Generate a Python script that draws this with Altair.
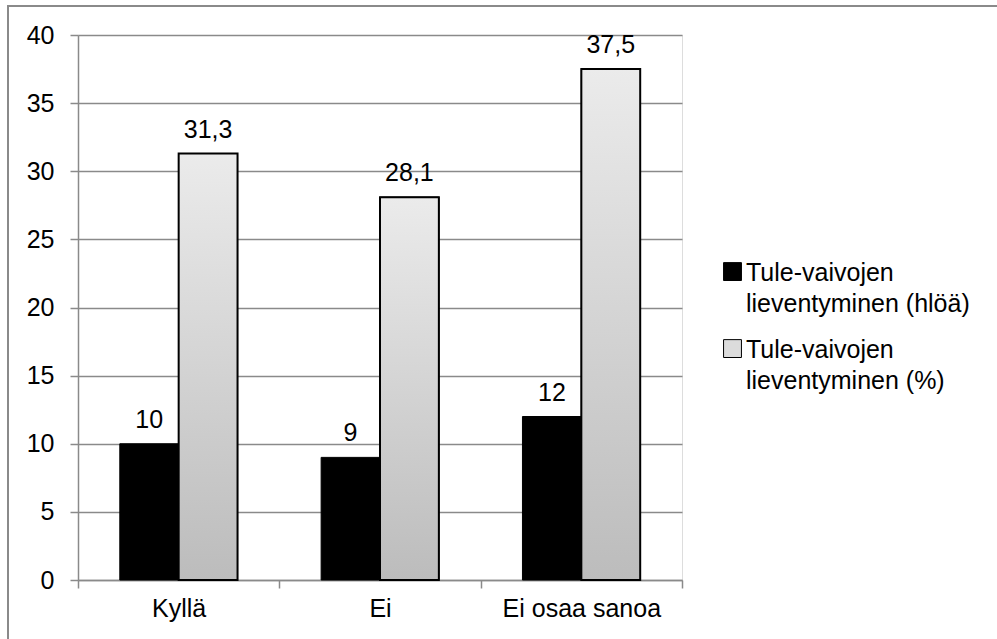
import altair as alt
import pandas as pd

# Survey answers and the two series shown for each answer
categories = ["Kyllä", "Ei", "Ei osaa sanoa"]
series_names = [
    "Tule-vaivojen lieventyminen (hlöä)",
    "Tule-vaivojen lieventyminen (%)",
]
counts = [10, 9, 12]
percents = [31.3, 28.1, 37.5]
y_ticks = [0, 5, 10, 15, 20, 25, 30, 35, 40]

rows = []
for cat, n, p in zip(categories, counts, percents):
    rows.append({"kategoria": cat, "sarja": series_names[0], "arvo": n})
    rows.append({"kategoria": cat, "sarja": series_names[1], "arvo": p})
df = pd.DataFrame(rows)
# Finnish decimal comma for the value labels
df["teksti"] = df["arvo"].map(lambda v: f"{v:g}".replace(".", ","))

FONT = "Liberation Sans"
FS = 25
AXIS_GREY = "#8a8a8a"

x_enc = alt.X(
    "kategoria:N",
    sort=categories,
    scale=alt.Scale(paddingInner=0, paddingOuter=0),
    axis=alt.Axis(
        title=None,
        labelAngle=0,
        tickBand="extent",
        grid=False,
        domainColor=AXIS_GREY,
        domainWidth=1.5,
        tickColor=AXIS_GREY,
        tickWidth=1.5,
        tickSize=8,
        labelFont=FONT,
        labelFontSize=FS,
        labelColor="black",
        labelPadding=8,
    ),
)
xoff_enc = alt.XOffset(
    "sarja:N",
    sort=series_names,
    scale=alt.Scale(paddingInner=0, paddingOuter=0.71),
)
y_enc = alt.Y(
    "arvo:Q",
    scale=alt.Scale(domain=[0, 40], nice=False),
    axis=alt.Axis(
        title=None,
        values=y_ticks,
        format="d",
        grid=True,
        gridColor=AXIS_GREY,
        gridWidth=1.5,
        domainColor=AXIS_GREY,
        domainWidth=1.5,
        tickColor=AXIS_GREY,
        tickWidth=1.5,
        tickSize=8,
        labelFont=FONT,
        labelFontSize=FS,
        labelColor="black",
        labelPadding=16,
    ),
)

# Legend labels break after the first word
split_label = (
    "[slice(datum.label, 0, indexof(datum.label, ' ')), "
    "slice(datum.label, indexof(datum.label, ' ') + 1)]"
)

bars = alt.Chart(df).mark_bar(stroke="black", strokeWidth=1).encode(
    x=x_enc,
    xOffset=xoff_enc,
    y=y_enc,
    color=alt.Color(
        "sarja:N",
        sort=series_names,
        scale=alt.Scale(domain=series_names, range=["black", "#dcdcdc"]),
        legend=alt.Legend(
            title=None,
            orient="none",
            legendX=642,
            legendY=233,
            padding=0,
            # square raised so that it sits beside the first label line
            symbolType="M-1,-2H1V0H-1Z",
            symbolSize=320,
            symbolStrokeColor="black",
            symbolStrokeWidth=1,
            symbolOpacity=1,
            labelFont=FONT,
            labelFontSize=FS,
            labelColor="black",
            labelOffset=1,
            labelBaseline="alphabetic",
            labelLimit=400,
            labelExpr=split_label,
            rowPadding=20,
        ),
    ),
)

# Percentage bars are drawn again on top with a vertical grey gradient
gradient_bars = (
    alt.Chart(df)
    .transform_filter(alt.datum.sarja == series_names[1])
    .mark_bar(
        color=alt.Gradient(
            gradient="linear",
            stops=[
                alt.GradientStop(color="#ebebeb", offset=0),
                alt.GradientStop(color="#bcbcbc", offset=1),
            ],
            x1=0, x2=0, y1=0, y2=1,
        ),
        stroke="black",
        strokeWidth=2,
    )
    .encode(x=x_enc, xOffset=xoff_enc, y=y_enc)
)

labels = (
    alt.Chart(df)
    .mark_text(font=FONT, fontSize=FS, color="black", baseline="middle", dy=-24)
    .encode(x=x_enc, xOffset=xoff_enc, y=y_enc, text="teksti:N")
)

# Thin grey frame line along the top and left of the figure
frame = alt.Chart(df).mark_rect(fill=None, stroke=AXIS_GREY, strokeWidth=1.5).encode(
    x=alt.value(-70), x2=alt.value(1100), y=alt.value(-29), y2=alt.value(800)
)

chart = (
    alt.layer(frame, bars, gradient_bars, labels)
    .properties(
        width=604,
        height=545,
        padding={"left": 78, "top": 35, "right": 315, "bottom": 59},
        autosize=alt.AutoSizeParams(type="none"),
    )
    .configure_view(stroke=None)
    .configure(background="white", style={"guide-label": {"lineHeight": 31}})
)

chart.save("out.html", embed_options={"renderer": "svg", "actions": False})
